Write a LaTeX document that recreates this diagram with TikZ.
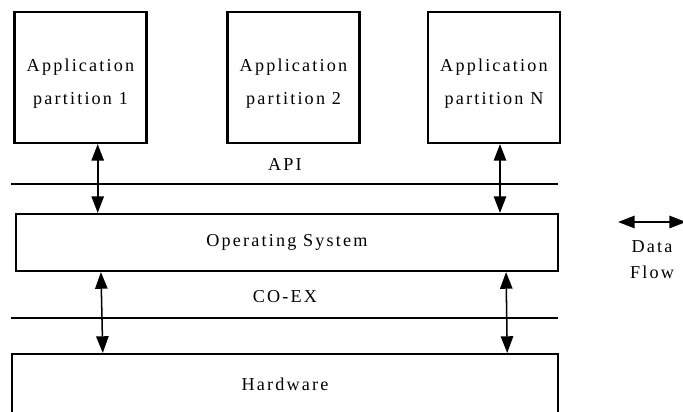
\documentclass[tikz,border=0pt]{standalone}
\usepackage{fontspec}
\setmainfont{Liberation Serif}[LetterSpace=12]
\usetikzlibrary{arrows.meta,calc}

\newcommand{\toprow}{\rule{0pt}{21.6pt}}

\begin{document}
\begin{tikzpicture}[x=0.03cm,y=-0.03cm,
    label text/.style={font=\fontsize{15.5}{28}\selectfont},
    partbox/.style={draw,line width=1.8pt,label text,align=center,
      minimum width=3.96cm,minimum height=3.93cm,inner sep=0pt},
    layerbox/.style={draw,line width=1.8pt,label text,inner sep=0pt},
    iface/.style={line width=1.6pt},
    flow/.style={line width=1.6pt,
      {Triangle[length=0.5cm,width=0.37cm]}-{Triangle[length=0.5cm,width=0.37cm]}}]
  \useasboundingbox (0,0) rectangle (683,411);

  % application partitions
  \node[partbox] (app1) at (80.5,77.5) {\toprow Application\\partition 1};
  \node[partbox] (app2) at (293.5,77.5) {\toprow Application\\partition 2};
  \node[partbox] (appN) at (494,77.5) {\toprow Application\\partition N};

  % interface lines
  \coordinate (apiL) at (11,184);
  \coordinate (apiR) at (558,184);
  \draw[iface] (apiL) -- (apiR);
  \node[label text] (api) at (285,164) {API};

  \coordinate (coexL) at (11,318);
  \coordinate (coexR) at (558,318);
  \draw[iface] (coexL) -- (coexR);
  \node[label text] (coex) at (285,297) {CO-EX};

  % layers
  \node[layerbox,minimum width=16.26cm,minimum height=1.71cm] (os) at (287,242.5) {Operating System};
  \node[layerbox,minimum width=16.39cm,minimum height=1.8cm] (hw) at (285,384) {Hardware};

  % data flow between layers
  \coordinate (u1) at ($(app1.south)+(17.2,0)$);
  \coordinate (uN) at ($(appN.south)+(6,0)$);
  \draw[flow] (u1) -- (u1 |- os.north);
  \draw[flow] (uN) -- (uN |- os.north);

  \coordinate (l1) at ($(os.south west)+(86,0)$);
  \coordinate (m1) at ($(hw.north west)+(92,0)$);
  \coordinate (lN) at ($(os.south east)+(-53,0)$);
  \coordinate (mN) at ($(hw.north east)+(-52,0)$);
  \draw[flow,line width=1.3pt] (l1) -- (m1);
  \draw[flow,line width=1.3pt] (lN) -- (mN);

  % legend
  \coordinate (legL) at (618,222);
  \coordinate (legR) at (686,222);
  \draw[flow] (legL) -- (legR);
  \node[label text,align=center,font=\fontsize{15.5}{22}\selectfont] (leg) at (652,260) {Data\\Flow};
\end{tikzpicture}
\end{document}
